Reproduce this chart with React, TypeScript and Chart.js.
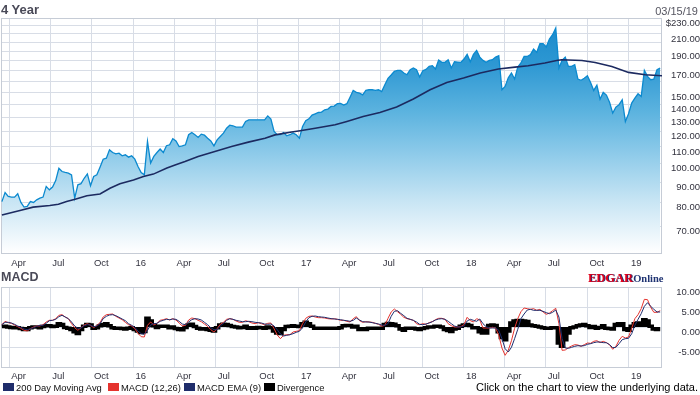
import React, { useEffect, useRef } from 'react';
import { Chart, registerables } from 'chart.js';

Chart.register(...registerables);

const FONT = '"Liberation Sans", Arial, Helvetica, sans-serif';

// x axis: calendar days since 2015-03-16
const quarterDays = [16, 107, 199, 291, 382, 473, 565, 657, 747, 838, 930, 1022, 1112, 1203, 1295, 1387];
const quarterLabels = ['Apr', 'Jul', 'Oct', '16', 'Apr', 'Jul', 'Oct', '17', 'Apr', 'Jul', 'Oct', '18', 'Apr', 'Jul', 'Oct', '19'];
const weekStepDays = 7;

// weekly closing prices
const priceWeekly = [
  80.5, 84.8, 82.9, 82.6, 82.6, 84.2, 80.1, 78.0, 78.3, 80.5,
  80.1, 81.3, 82.1, 82.6, 87.8, 86.1, 87.5, 90.8, 97.4, 95.6,
  95.1, 94.7, 93.8, 82.1, 88.6, 89.2, 92.0, 94.3, 88.1, 92.9,
  93.8, 98.0, 102.6, 103.2, 108.2, 106.6, 105.8, 106.2, 104.6, 105.2,
  103.8, 104.6, 102.6, 98.4, 95.1, 93.8, 113.5, 100.3, 104.2, 106.6,
  108.7, 106.6, 110.8, 111.4, 115.3, 113.9, 110.3, 110.7, 111.4, 118.0,
  119.5, 118.0, 116.2, 118.4, 117.7, 115.7, 113.9, 110.7, 114.6, 116.8,
  119.1, 122.5, 124.6, 124.2, 123.2, 123.2, 123.2, 127.3, 128.5, 128.5,
  128.5, 128.5, 128.5, 128.5, 131.4, 129.0, 120.2, 118.0, 118.0, 119.5,
  117.3, 118.0, 119.1, 118.0, 115.7, 123.7, 127.8, 129.2, 132.0, 133.0,
  134.0, 134.3, 136.1, 136.6, 138.7, 139.0, 140.9, 141.1, 139.8, 140.9,
  146.2, 152.0, 150.3, 149.7, 148.2, 152.0, 152.6, 152.6, 152.0, 152.6,
  151.1, 157.0, 162.9, 166.0, 169.5, 170.4, 170.4, 167.9, 166.3, 171.1,
  172.8, 171.1, 164.1, 170.1, 171.4, 174.4, 175.1, 171.8, 180.8, 178.5,
  178.5, 181.2, 172.8, 179.1, 178.8, 178.5, 181.9, 186.8, 179.1, 186.8,
  191.1, 183.9, 180.5, 178.5, 180.5, 181.2, 183.9, 185.3, 152.6, 155.5,
  163.3, 167.9, 162.2, 173.7, 177.8, 184.6, 184.6, 186.5, 192.5, 189.0,
  198.6, 198.6, 194.8, 203.9, 209.0, 217.2, 172.8, 180.5, 183.9, 174.4,
  174.4, 176.1, 162.2, 161.0, 162.9, 165.3, 159.1, 152.0, 156.7, 144.6,
  150.3, 148.0, 142.0, 133.5, 138.2, 140.1, 144.1, 127.3, 133.0, 141.4,
  145.5, 149.1, 146.8, 170.4, 164.7, 161.6, 162.2, 171.1, 172.8,
];

// 200 day moving average
const maDays = [
  0, 40, 69, 106, 125, 143, 162, 188, 217, 239,
  261, 291, 313, 335, 365, 383, 405, 434, 471, 508,
  545, 582, 604, 641, 663, 693, 737, 763, 799, 836,
  873, 910, 947, 984, 1021, 1058, 1098, 1135, 1164, 1201,
  1227, 1238, 1283, 1312, 1349, 1386, 1423, 1460,
];
const maValues = [
  74.6, 76.5, 78.0, 78.7, 79.3, 80.5, 81.6, 83.2, 84.1, 86.9,
  89.1, 91.1, 92.9, 94.2, 97.5, 99.3, 101.2, 104.2, 107.2, 110.3,
  113.1, 115.7, 117.9, 119.8, 120.9, 122.5, 124.9, 127.3, 130.9, 134.0,
  138.2, 144.7, 152.6, 159.1, 163.2, 167.9, 171.8, 173.7, 175.1, 177.8,
  180.4, 181.2, 180.4, 178.4, 174.4, 168.5, 166.2, 165.3,
];

// MACD (12,26), weekly
const macdWeekly = [
  0.58, 1.42, 1.08, 0.92, 0.5, 0.08, -0.33, -0.83, -1.0, -0.42,
  0, 0.25, 0.25, 0.58, 1.25, 1.67, 1.67, 2.08, 2.92, 3.08,
  2.5, 2.08, 0.83, -0.17, -0.83, -0.17, 0.5, 0.83, 0.42, -0.17,
  0.42, 1.08, 2.5, 3.08, 3.17, 3.25, 2.67, 2.25, 1.83, 1.17,
  0.58, 0.25, -0.42, -1.58, -2.42, -2.5, 0.42, 1.25, 0.5, 0.92,
  1.67, 1.83, 2.08, 1.75, 2.08, 1.75, 1.0, 0.25, 0.42, 1.75,
  2.25, 2.08, 1.67, 1.33, 0.75, 0.17, -0.67, -1.25, -0.42, 0.67,
  1.17, 1.92, 2.08, 1.92, 1.5, 1.17, 1.17, 1.58, 1.33, 1.0,
  0.83, 1.08, 0.83, 0.58, 0.92, 1.0, -0.42, -2.0, -2.92, -2.08,
  -1.92, -1.92, -1.25, -1.08, -0.92, 0.83, 2.17, 2.67, 2.75, 2.5,
  2.33, 2.33, 2.25, 2.08, 2.0, 2.08, 1.92, 1.67, 1.67, 1.42,
  1.25, 2.08, 2.58, 1.58, 1.17, 1.33, 1.25, 1.17, 0.92, 0.67,
  0.17, 0.42, 2.17, 3.75, 4.5, 3.83, 3.17, 2.42, 2.08, 1.92,
  1.67, 0.83, 0.58, 0.83, 0.67, 1.08, 1.33, 1.83, 2.17, 2.17,
  1.92, 0.83, 0.33, 0, 0, 0.08, 0.58, 2.42, 1.58, 1.25,
  2.08, 1.75, -0.25, -0.25, -0.25, -0.08, -0.25, -2.08, -5.25, -7.08,
  -5.83, -3.42, -0.33, 2.08, 3.83, 4.75, 4.58, 4.42, 4.58, 4.17,
  4.42, 3.75, 3.17, 3.5, 4.08, 4.67, 0.83, -5.83, -5.75, -5.17,
  -4.75, -4.42, -4.5, -4.83, -4.42, -4.0, -4.08, -3.58, -3.42, -3.92,
  -3.58, -3.92, -4.42, -5.58, -4.83, -3.33, -2.33, -2.75, -2.5, -0.33,
  2.08, 3.08, 4.58, 6.92, 6.83, 4.92, 3.67, 3.67, 4.08,
];

// MACD EMA (9), weekly
const signalWeekly = [
  0.58, 1.17, 1.17, 1.0, 0.67, 0.25, -0.08, -0.5, -0.67, -0.42,
  -0.17, 0.17, 0.42, 0.42, 0.92, 1.58, 1.67, 1.92, 2.58, 2.92,
  2.5, 2.08, 1.25, 0.25, -0.33, -0.25, 0.33, 0.58, 0.5, 0.08,
  0.25, 0.83, 2.08, 2.67, 3.0, 3.08, 2.83, 2.42, 2.0, 1.58,
  0.83, 0.42, -0.08, -1.0, -1.67, -1.83, -0.83, 0.5, 0.83, 0.92,
  1.42, 1.67, 1.92, 1.83, 2.0, 1.92, 1.42, 0.75, 0.58, 1.25,
  1.83, 2.08, 2.0, 1.75, 1.17, 0.58, -0.17, -0.67, -0.67, 0.25,
  0.92, 1.67, 2.08, 1.92, 1.67, 1.5, 1.33, 1.33, 1.42, 1.33,
  1.17, 1.08, 1.0, 0.75, 0.67, 0.75, 0.25, -0.67, -1.75, -2.25,
  -2.08, -1.92, -1.67, -1.33, -1.08, -0.17, 1.25, 2.33, 2.67, 2.75,
  2.58, 2.5, 2.42, 2.25, 2.1, 2.0, 1.92, 1.83, 1.67, 1.58,
  1.42, 1.67, 2.25, 1.75, 1.33, 1.25, 1.25, 1.08, 0.92, 0.75,
  0.5, 0.42, 0.83, 2.67, 3.92, 4.08, 3.42, 2.83, 2.17, 1.92,
  1.67, 1.25, 0.67, 0.58, 0.75, 1.0, 1.33, 1.75, 2.0, 2.08,
  1.92, 1.42, 0.83, 0.25, 0, 0, 0.25, 1.5, 1.92, 1.67,
  1.42, 2.0, 0.83, 0.08, -0.25, -0.25, -0.25, -0.83, -2.92, -5.42,
  -6.25, -5.08, -2.92, -0.58, 2.08, 3.25, 4.25, 4.42, 4.17, 4.17,
  4.17, 3.92, 3.58, 3.33, 3.67, 4.25, 2.5, -2.92, -5.25, -5.33,
  -5.08, -4.83, -4.67, -4.75, -4.67, -4.33, -4.17, -3.92, -3.75, -3.75,
  -3.92, -3.92, -4.42, -5.17, -5.08, -4.17, -3.17, -2.92, -2.83, -1.67,
  0.42, 1.92, 3.33, 5.17, 6.08, 5.17, 4.42, 3.75, 3.75,
];

// Divergence, weekly
const divergenceWeekly = [
  0.1, 0.2, 0, -0.1, -0.2, -0.2, -0.4, -0.6, -0.6, -0.2,
  0, 0, -0.2, 0.1, 0.3, 0.3, 0.1, 0.2, 0.8, 0.6,
  -0.1, -0.3, -0.6, -1.2, -1.6, -0.6, 0.2, 0.6, 0.5, -0.3,
  -0.2, 0.3, 0.6, 0.8, 0.3, -0.2, -0.3, -0.3, -0.4, -0.5,
  -0.3, -0.2, -0.6, -1.0, -1.4, -1.1, 2.2, 1.5, 0.3, -0.1,
  0.2, 0.2, 0.2, -0.2, 0, -0.4, -0.6, -0.7, -0.1, 0.5,
  0.7, 0.1, -0.3, -0.5, -0.5, -0.6, -0.8, -1.0, -0.2, 0.5,
  0.7, 0.6, 0.4, 0.1, 0, -0.2, -0.1, 0.2, -0.3, -0.2,
  -0.3, -0.1, -0.2, -0.3, 0, -0.2, -1.0, -1.5, -1.6, -0.6,
  0.1, 0.2, 0.3, 0.2, 0.1, 0.8, 1.2, 0.8, 0.2, -0.3,
  -0.3, -0.3, -0.3, -0.3, -0.3, -0.3, -0.3, -0.2, 0.3, 0.4,
  0.4, 0, 0.2, -0.6, -0.6, -0.6, -0.3, -0.3, -0.3, -0.3,
  -0.3, 0.6, 0.9, 0.8, 0.7, 0.3, -0.5, -0.8, -0.3, -0.3,
  -0.3, -0.5, -0.6, -0.4, -0.2, 0, 0, 0.2, 0.2, 0,
  -0.6, -0.9, -1.1, -0.5, -0.3, 0.2, 0.5, 0.6, 0.4, -0.2,
  -0.2, -1.2, -1.5, -1.5, 0.4, 0.5, 0.4, -1.2, -2.6, -3.2,
  -1.0, 1.0, 1.5, 1.6, 1.6, 1.5, 1.4, 0.5, 0.3, 0.2,
  0, -0.2, -0.3, -0.3, -0.2, -0.2, -4.0, -4.8, -3.2, -1.5,
  -0.2, 0, 0.3, 0.5, 0.6, 0.3, -0.1, 0.1, -0.3, -0.1,
  0.3, -0.3, -0.4, -0.5, 0.6, 0.8, 0.8, -0.6, -0.8, 0.2,
  0.8, 1.0, 1.0, 1.8, 1.5, 0.2, -0.5, -0.6, -0.6,
];

const priceGridValues = [70, 80, 90, 100, 110, 120, 130, 140, 150, 160, 170, 180, 190, 200, 210, 220, 230];
const priceLabelValues = [230, 210, 190, 170, 150, 140, 130, 120, 110, 100, 90, 80, 70];
const macdTickValues = [-10, -5, 0, 5, 10];

const GRID = '#d8dde6';
const FRAME = '#c6ccd6';
const TICK_COLOR = '#33333f';

const framePlugin = {
  id: 'frame',
  beforeDatasetsDraw(chart: any) {
    const { ctx, chartArea: a } = chart;
    ctx.save();
    ctx.strokeStyle = FRAME;
    ctx.lineWidth = 1;
    ctx.strokeRect(Math.round(a.left) + 0.5, Math.round(a.top) + 0.5, Math.round(a.right - a.left) - 1, Math.round(a.bottom - a.top));
    ctx.restore();
  },
};

function xScale(height: number, pad: number) {
  return {
    type: 'linear',
    min: -2,
    max: 1460,
    bounds: 'data',
    afterBuildTicks: (s: any) => {
      s.ticks = quarterDays.map((v) => ({ value: v }));
    },
    afterFit: (s: any) => {
      s.height = height;
      s.paddingLeft = 0;
      s.paddingRight = 0;
    },
    grid: { color: GRID, drawTicks: false, lineWidth: 1 },
    border: { display: false },
    ticks: {
      autoSkip: false,
      maxRotation: 0,
      minRotation: 0,
      align: 'start',
      labelOffset: 2,
      padding: pad,
      color: TICK_COLOR,
      font: { family: FONT, size: 9.5 },
      callback: (_v: any, i: number) => quarterLabels[i],
    },
  };
}

function gradientFill(c: any) {
  const chart = c.chart;
  const a = chart.chartArea;
  if (!a) return 'rgba(0,0,0,0)';
  const g = chart.ctx.createLinearGradient(0, a.top, 0, a.bottom);
  g.addColorStop(0, '#1787c9');
  g.addColorStop(0.2, '#2e98d3');
  g.addColorStop(0.4, '#5cb3df');
  g.addColorStop(0.55, '#86c7e8');
  g.addColorStop(0.78, '#c8e5f4');
  g.addColorStop(1, '#ffffff');
  return g;
}

export default function App() {
  const priceRef = useRef<HTMLCanvasElement>(null);
  const macdRef = useRef<HTMLCanvasElement>(null);

  useEffect(() => {
    document.body.style.margin = '0';
    const weekly = (arr: number[]) => arr.map((v, i) => ({ x: i * weekStepDays, y: v }));

    const priceChart = new Chart(priceRef.current as HTMLCanvasElement, {
      type: 'line',
      data: {
        datasets: [
          {
            label: '200 Day Moving Avg',
            data: maDays.map((d, i) => ({ x: d, y: maValues[i] })),
            borderColor: '#1c2a60',
            borderWidth: 1.6,
            pointRadius: 0,
            fill: false,
            tension: 0,
            order: 0,
          },
          {
            label: 'Price',
            data: weekly(priceWeekly),
            borderColor: '#0b89cf',
            borderWidth: 1.3,
            pointRadius: 0,
            fill: 'start',
            backgroundColor: gradientFill,
            tension: 0,
            order: 1,
          },
        ],
      } as any,
      options: {
        animation: false,
        responsive: false,
        maintainAspectRatio: false,
        events: [],
        layout: { padding: { top: 18, left: 1, right: 0, bottom: 0 } },
        plugins: { legend: { display: false }, tooltip: { enabled: false } },
        scales: {
          x: xScale(19, 5),
          y: {
            type: 'logarithmic',
            position: 'right',
            min: 60,
            max: 230,
            bounds: 'data',
            afterBuildTicks: (s: any) => {
              s.ticks = priceGridValues.map((v) => ({ value: v }));
            },
            afterFit: (s: any) => {
              s.width = 38;
              s.paddingTop = 0;
              s.paddingBottom = 0;
            },
            grid: { color: GRID, drawTicks: false, lineWidth: 1 },
            border: { display: false },
            ticks: {
              autoSkip: false,
              crossAlign: 'far',
              padding: 2,
              labelOffset: 5,
              color: TICK_COLOR,
              font: { family: FONT, size: 9.5 },
              callback: (v: any) => {
                const n = Number(v);
                if (!priceLabelValues.includes(n)) return '';
                return n === 230 ? '$230.00' : n.toFixed(2);
              },
            },
          },
        },
      } as any,
      plugins: [framePlugin],
    });

    const macdChart = new Chart(macdRef.current as HTMLCanvasElement, {
      type: 'line',
      data: {
        datasets: [
          {
            label: 'MACD EMA (9)',
            data: weekly(signalWeekly),
            borderColor: '#1f2d6e',
            borderWidth: 1,
            pointRadius: 0,
            fill: false,
            tension: 0,
            order: 0,
          },
          {
            label: 'MACD (12,26)',
            data: weekly(macdWeekly),
            borderColor: '#e5332e',
            borderWidth: 1,
            pointRadius: 0,
            fill: false,
            tension: 0,
            order: 1,
          },
          {
            label: 'Divergence',
            data: weekly(divergenceWeekly),
            borderColor: '#000000',
            backgroundColor: '#000000',
            borderWidth: 3.5,
            pointRadius: 0,
            fill: 'origin',
            stepped: 'middle',
            order: 2,
          },
        ],
      } as any,
      options: {
        animation: false,
        responsive: false,
        maintainAspectRatio: false,
        events: [],
        layout: { padding: { top: 7, left: 1, right: 0, bottom: 0 } },
        plugins: { legend: { display: false }, tooltip: { enabled: false } },
        scales: {
          x: xScale(17, 4),
          y: {
            type: 'linear',
            position: 'right',
            min: -10,
            max: 10,
            bounds: 'data',
            afterBuildTicks: (s: any) => {
              s.ticks = macdTickValues.map((v) => ({ value: v }));
            },
            afterFit: (s: any) => {
              s.width = 38;
              s.paddingTop = 0;
              s.paddingBottom = 0;
            },
            grid: { color: GRID, drawTicks: false, lineWidth: 1 },
            border: { display: false },
            ticks: {
              autoSkip: false,
              crossAlign: 'far',
              padding: 11,
              labelOffset: 5,
              color: TICK_COLOR,
              font: { family: FONT, size: 9.5 },
              callback: (v: any) => {
                const n = Number(v);
                return n === -10 ? '' : n.toFixed(2);
              },
            },
          },
        },
      } as any,
      plugins: [framePlugin],
    });

    return () => {
      priceChart.destroy();
      macdChart.destroy();
    };
  }, []);

  const legendItems = [
    { color: '#1f2d6b', text: '200 Day Moving Avg', sq: 3, tx: 16 },
    { color: '#e5332e', text: 'MACD (12,26)', sq: 108, tx: 121 },
    { color: '#1f2d6b', text: 'MACD EMA (9)', sq: 184, tx: 197 },
    { color: '#000000', text: 'Divergence', sq: 264, tx: 277 },
  ];

  return (
    <div style={{ position: 'absolute', left: 0, top: 0, width: 700, height: 395, background: '#ffffff', overflow: 'hidden', fontFamily: FONT }}>
      <canvas ref={priceRef} width={700} height={272} style={{ position: 'absolute', left: 0, top: 0, display: 'block' }} />
      <canvas ref={macdRef} width={700} height={104} style={{ position: 'absolute', left: 0, top: 280, display: 'block' }} />

      <div style={{ position: 'absolute', left: 1, top: 3, fontSize: 13, lineHeight: '13px', fontWeight: 'bold', color: '#4a4a58', whiteSpace: 'nowrap' }}>4 Year</div>
      <div style={{ position: 'absolute', right: 2, top: 6, fontSize: 11, lineHeight: '11px', color: '#555560', whiteSpace: 'nowrap' }}>03/15/19</div>
      <div style={{ position: 'absolute', left: 1, top: 271, fontSize: 12.5, lineHeight: '12.5px', fontWeight: 'bold', color: '#4a4a58', whiteSpace: 'nowrap' }}>MACD</div>

      <div style={{ position: 'absolute', left: 588, top: 270, lineHeight: '13px', whiteSpace: 'nowrap', fontFamily: '"Liberation Serif", "Times New Roman", serif', fontWeight: 'bold' }}>
        <span style={{ fontSize: 12.5, color: '#e3001b', textShadow: '1px 0 0 #1f3372' }}>EDGAR</span>
        <span style={{ fontSize: 10.5, color: '#1f3372' }}>Online</span>
      </div>

      {legendItems.map((it) => (
        <React.Fragment key={it.text}>
          <div style={{ position: 'absolute', left: it.sq, top: 383, width: 11, height: 8, background: it.color }} />
          <div style={{ position: 'absolute', left: it.tx, top: 382.5, fontSize: 9.4, lineHeight: '10px', color: '#111111', whiteSpace: 'nowrap' }}>{it.text}</div>
        </React.Fragment>
      ))}

      <div style={{ position: 'absolute', right: 2, top: 382, fontSize: 11, lineHeight: '11px', color: '#000000', whiteSpace: 'nowrap' }}>
        Click on the chart to view the underlying data.
      </div>
    </div>
  );
}
